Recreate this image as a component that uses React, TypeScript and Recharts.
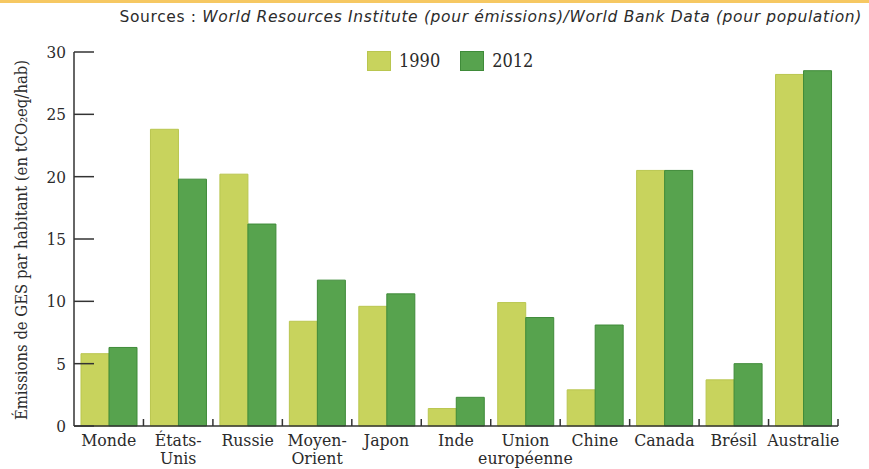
import { BarChart, Bar, XAxis, YAxis, Legend } from 'recharts'

const countries = [
  'Monde',
  'États-\nUnis',
  'Russie',
  'Moyen-\nOrient',
  'Japon',
  'Inde',
  'Union\neuropéenne',
  'Chine',
  'Canada',
  'Brésil',
  'Australie',
]
const values1990 = [5.8, 23.8, 20.2, 8.4, 9.6, 1.4, 9.9, 2.9, 20.5, 3.7, 28.2]
const values2012 = [6.3, 19.8, 16.2, 11.7, 10.6, 2.3, 8.7, 8.1, 20.5, 5.0, 28.5]
const yTicks = [0, 5, 10, 15, 20, 25, 30]

const data = countries.map((name, i) => ({
  name,
  y1990: values1990[i],
  y2012: values2012[i],
}))

const FONT = '"DejaVu Serif Condensed", "DejaVu Serif", serif'
const TEXT = '#2b2b2b'
const AXIS = '#333333'

const W = 869
const H = 469
const AXIS_LEFT = 74
const RIGHT = 31
const BAND = (W - AXIS_LEFT - RIGHT) / countries.length

function YTick(props: any) {
  const { x, y, payload } = props
  return (
    <g>
      <line x1={x + 6} x2={x + 26} y1={y} y2={y} stroke={AXIS} strokeWidth={1.5} />
      <text x={x - 2} y={y} dy={6} textAnchor="end" fontSize={17} fill={TEXT} fontFamily={FONT}>
        {payload.value}
      </text>
    </g>
  )
}

function XTick(props: any) {
  const { x, y, payload } = props
  const lines = String(payload.value).split('\n')
  return (
    <g>
      <line x1={x + BAND / 2} x2={x + BAND / 2} y1={y} y2={y - 7} stroke={AXIS} strokeWidth={1.5} />
      <text x={x} y={y} textAnchor="middle" fontSize={17.5} fill={TEXT} fontFamily={FONT}>
        {lines.map((l, i) => (
          <tspan key={i} x={x} dy={i === 0 ? 20 : 18}>
            {l}
          </tspan>
        ))}
      </text>
    </g>
  )
}

function LegendContent() {
  const items = [
    { label: '1990', color: '#c8d35d', stroke: '#b9c64f' },
    { label: '2012', color: '#57a34e', stroke: '#3f8b39' },
  ]
  return (
    <div style={{ display: 'flex', gap: 20, fontFamily: FONT, fontSize: 18, color: TEXT }}>
      {items.map((it) => (
        <div key={it.label} style={{ display: 'flex', alignItems: 'center' }}>
          <span
            style={{
              display: 'inline-block',
              width: 24,
              height: 20,
              background: it.color,
              border: `1px solid ${it.stroke}`,
              boxSizing: 'border-box',
              marginRight: 8,
            }}
          />
          {it.label}
        </div>
      ))}
    </div>
  )
}

function YLabel(props: any) {
  const vb = props.viewBox || { x: 0, y: 52, width: 74, height: 374 }
  const cx = vb.x + 27
  const cy = vb.y + vb.height / 2 + 1
  return (
    <text
      x={cx}
      y={cy}
      transform={`rotate(-90 ${cx} ${cy})`}
      textAnchor="middle"
      fontSize={16.5}
      fill={TEXT}
      fontFamily={FONT}
    >
      Émissions de GES par habitant (en tCO₂eq/hab)
    </text>
  )
}

export default function App() {
  return (
    <div style={{ position: 'absolute', left: 0, top: 0, width: W, height: H, background: '#fff' }}>
      <div style={{ position: 'absolute', left: 0, top: 0, width: W, height: 3, background: '#f6c862' }} />
      <div
        style={{
          position: 'absolute',
          right: 7,
          top: 8,
          fontFamily: '"DejaVu Sans", Verdana, sans-serif',
          fontSize: 15.5,
          letterSpacing: 0.65,
          color: TEXT,
          whiteSpace: 'nowrap',
        }}
      >
        Sources : <i>World Resources Institute (pour émissions)/World Bank Data (pour population)</i>
      </div>
      <BarChart
        width={W}
        height={H}
        data={data}
        margin={{ top: 52, right: RIGHT, bottom: 0, left: 0 }}
        barCategoryGap={7}
        barGap={0}
      >
        <YAxis
          width={AXIS_LEFT}
          domain={[0, 30]}
          ticks={yTicks}
          interval={0}
          tickSize={0}
          tickMargin={6}
          tick={<YTick />}
          axisLine={{ stroke: AXIS, strokeWidth: 1.5 }}
          label={{ content: <YLabel /> }}
        />
        <XAxis
          dataKey="name"
          height={43}
          interval={0}
          tickSize={0}
          tickMargin={0}
          tick={<XTick />}
          axisLine={{ stroke: AXIS, strokeWidth: 1.5 }}
        />
        <Legend
          verticalAlign="middle"
          align="center"
          content={<LegendContent />}
          wrapperStyle={{ top: 50, left: 367, width: 'auto' }}
        />
        <Bar dataKey="y1990" fill="#c8d35d" stroke="#b9c64f" strokeWidth={1} isAnimationActive={false} />
        <Bar dataKey="y2012" fill="#57a34e" stroke="#3f8b39" strokeWidth={1} isAnimationActive={false} />
      </BarChart>
    </div>
  )
}
